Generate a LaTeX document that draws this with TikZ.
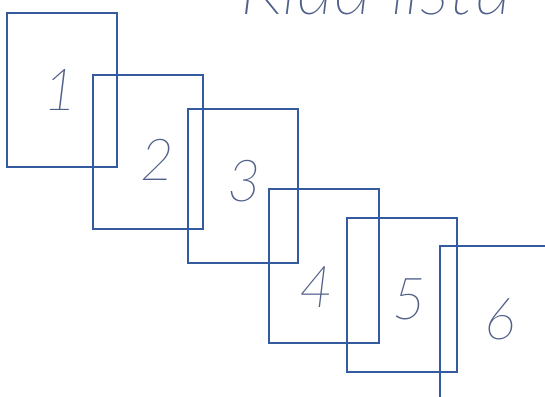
\documentclass[tikz,border=0pt]{standalone}
\usepackage{fontspec}
\newfontfamily\sheetfont{Lato}[UprightFont=*-Thin, ItalicFont=*-ThinItalic]
\usetikzlibrary{positioning}

\begin{document}
\begin{tikzpicture}[
    x=1pt, y=-1pt,
    sheet/.style={draw=sheetblue, line width=1.2pt, minimum width=110pt,
                  minimum height=154pt, inner sep=0pt},
    num/.style={text=numgray, font=\sheetfont\itshape\fontsize{58}{62}\selectfont,
                inner sep=0pt},
  ]
    \definecolor{sheetblue}{RGB}{52,90,160}
    \definecolor{numgray}{RGB}{80,96,136}
    \useasboundingbox (0,0) rectangle (545,396);

    % Title (cut at top edge)
    \node[num, font=\sheetfont\itshape\fontsize{74}{80}\selectfont, anchor=base west]
        (title) at (240,15) {Klad listů};

    % Sheets
    \node[sheet] (s1) at (62,90)   {};
    \node[sheet] (s2) at (148,152) {};
    \node[sheet] (s3) at (243,186) {};
    \node[sheet] (s4) at (324,266) {};
    \node[sheet] (s5) at (402,295) {};
    \node[sheet] (s6) at (495,323) {};

    % Numbers
    \node[num] (n1) at (60,90)   {1};
    \node[num] (n2) at (157,160) {2};
    \node[num] (n3) at (244,181) {3};
    \node[num] (n4) at (316,287) {4};
    \node[num] (n5) at (409,299) {5};
    \node[num] (n6) at (500,319) {6};
  \end{tikzpicture}
\end{document}
